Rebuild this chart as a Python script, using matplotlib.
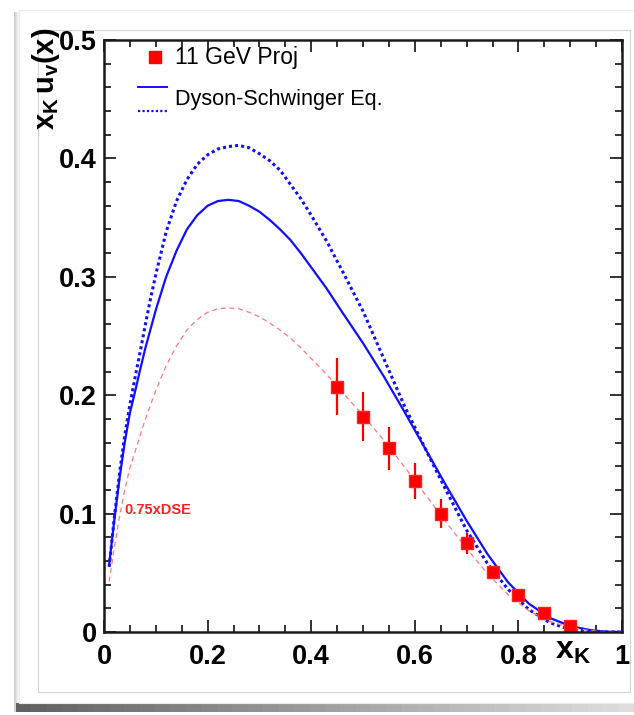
import matplotlib
matplotlib.use("Agg")
import matplotlib.pyplot as plt
from matplotlib.patches import Rectangle
from matplotlib.lines import Line2D
from matplotlib.ticker import MultipleLocator
import numpy as np

plt.rcParams["font.family"] = ["Liberation Sans", "DejaVu Sans"]
plt.rcParams["mathtext.fontset"] = "custom"
plt.rcParams["mathtext.rm"] = "Liberation Sans"
plt.rcParams["mathtext.bf"] = "Liberation Sans:bold"
plt.rcParams["mathtext.it"] = "Liberation Sans:italic"

# Dyson-Schwinger valence distribution x_K u_v(x), two versions
x_dse = [0.01, 0.02, 0.03, 0.04, 0.05, 0.06, 0.07, 0.08, 0.09, 0.10, 0.12, 0.14, 0.16,
         0.18, 0.20, 0.22, 0.24, 0.26, 0.28, 0.30, 0.32, 0.34, 0.36, 0.38, 0.40, 0.43,
         0.46, 0.50, 0.54, 0.58, 0.62, 0.66, 0.70, 0.74, 0.78, 0.82, 0.86, 0.90, 0.94,
         0.97, 1.00]
dse_solid = [0.057, 0.095, 0.130, 0.160, 0.185, 0.203, 0.222, 0.240, 0.256, 0.272, 0.300,
             0.322, 0.340, 0.352, 0.360, 0.364, 0.365, 0.364, 0.360, 0.355, 0.348, 0.340,
             0.331, 0.320, 0.308, 0.290, 0.270, 0.244, 0.216, 0.186, 0.155, 0.124, 0.094,
             0.066, 0.042, 0.024, 0.012, 0.005, 0.0015, 0.0003, 0.0]
dse_dotted = [0.055, 0.097, 0.134, 0.166, 0.192, 0.215, 0.237, 0.260, 0.282, 0.302, 0.338,
              0.364, 0.382, 0.395, 0.403, 0.408, 0.410, 0.411, 0.409, 0.404, 0.398, 0.390,
              0.378, 0.366, 0.352, 0.330, 0.305, 0.271, 0.231, 0.191, 0.155, 0.120, 0.086,
              0.058, 0.036, 0.019, 0.008, 0.002, 0.0005, 0.0, 0.0]
scale = 0.75

# 11 GeV projected points
x_proj = [0.45, 0.50, 0.55, 0.60, 0.65, 0.70, 0.75, 0.80, 0.85, 0.90]
y_proj = [0.207, 0.182, 0.155, 0.1275, 0.100, 0.075, 0.051, 0.031, 0.016, 0.005]
err_proj = [0.024, 0.021, 0.018, 0.015, 0.012, 0.009, 0.005, 0.003, 0.002, 0.001]

xticks = [0, 0.2, 0.4, 0.6, 0.8, 1.0]
xticklabels = ["0", "0.2", "0.4", "0.6", "0.8", "1"]
yticks = [0, 0.1, 0.2, 0.3, 0.4, 0.5]
yticklabels = ["0", "0.1", "0.2", "0.3", "0.4", "0.5"]

W, H = 634, 715
fig = plt.figure(figsize=(W / 100, H / 100), dpi=100, facecolor="white")


def frect(x0, y0, x1, y1, **kw):
    # rectangle given in pixels from the top-left corner
    fig.patches.append(Rectangle((x0 / W, 1 - y1 / H), (x1 - x0) / W, (y1 - y0) / H,
                                 transform=fig.transFigure, **kw))


# page card with a soft shadow on the left and bottom
for i, g in enumerate(np.linspace(0.80, 0.97, 5)):
    frect(14 + i, 12, 15 + i, 712, facecolor=str(g), edgecolor="none", zorder=-9)
n = 40
for i in range(n):
    g = 0.38 + 0.5 * i / n
    x0 = 16 + i * (W - 16) / n
    frect(x0, 703, x0 + (W - 16) / n + 1, 712, facecolor=str(g), edgecolor="none",
          zorder=-9)
frect(19, 10, W + 5, 703, facecolor="white", edgecolor="#ececec", lw=0.8, zorder=-5)
frect(38, 30, 630, 692, facecolor="white", edgecolor="#d4d4d4", lw=0.8, zorder=-4)

ax = fig.add_axes([104 / W, 1 - 632 / H, 518 / W, 592 / H])
ax.set_xlim(0, 1)
ax.set_ylim(0, 0.5)

blue = "#1010ff"
ax.plot(x_dse, dse_solid, color=blue, lw=1.6, solid_joinstyle="round")
ax.plot(x_dse, dse_dotted, color=blue, lw=2.2, linestyle=(0, (1, 1)))
ax.plot(x_dse, [scale * v for v in dse_solid], color="#ff7a7a", lw=0.9,
        linestyle=(0, (4, 3)))
ax.errorbar(x_proj, y_proj, yerr=err_proj, fmt="s", color="#ff0000", ms=8.5,
            elinewidth=1.6, capsize=0, mec="#ff2020")

ax.text(0.04, 0.103, "0.75xDSE", color="#ff2020", fontsize=10.5, fontweight="bold",
        va="center")

# legend
ax.plot([0.098], [0.971], "s", color="#ff0000", ms=8, transform=ax.transAxes, clip_on=False)
ax.text(0.137, 0.971, "11 GeV Proj", fontsize=16.5, va="center", transform=ax.transAxes)
ax.add_line(Line2D([0.066, 0.121], [0.920, 0.920], color=blue, lw=1.4,
                   transform=ax.transAxes))
ax.add_line(Line2D([0.066, 0.121], [0.880, 0.880], color=blue, lw=1.6,
                   linestyle=(0, (1, 1)), transform=ax.transAxes))
ax.text(0.137, 0.900, "Dyson-Schwinger Eq.", fontsize=15.6, va="center",
        transform=ax.transAxes)

# frame and ticks
ax.set_xticks(xticks)
ax.set_xticklabels(xticklabels)
ax.set_yticks(yticks)
ax.set_yticklabels(yticklabels)
ax.xaxis.set_minor_locator(MultipleLocator(0.05))
ax.yaxis.set_minor_locator(MultipleLocator(0.02))
ax.tick_params(which="both", direction="in", top=True, right=True, width=1.3,
               color="#222222")
ax.tick_params(which="major", length=8.5)
ax.tick_params(which="minor", length=5)
ax.tick_params(axis="x", which="major", pad=9, labelsize=19.5)
ax.tick_params(axis="y", which="major", pad=5, labelsize=19.5)
for lab in ax.get_xticklabels() + ax.get_yticklabels():
    lab.set_fontweight("bold")
for s in ax.spines.values():
    s.set_linewidth(1.8)
    s.set_color("#1a1a1a")

fig.text(46 / W, 1 - 28 / H, r"$\mathbf{x_K\,u_v(x)}$", rotation=90, fontsize=21,
         ha="center", va="top")
fig.text(591 / W, 1 - 636 / H, r"$\mathbf{x_K}$", fontsize=23, ha="right", va="top")

fig.savefig("out.png", dpi=100, facecolor="white")
